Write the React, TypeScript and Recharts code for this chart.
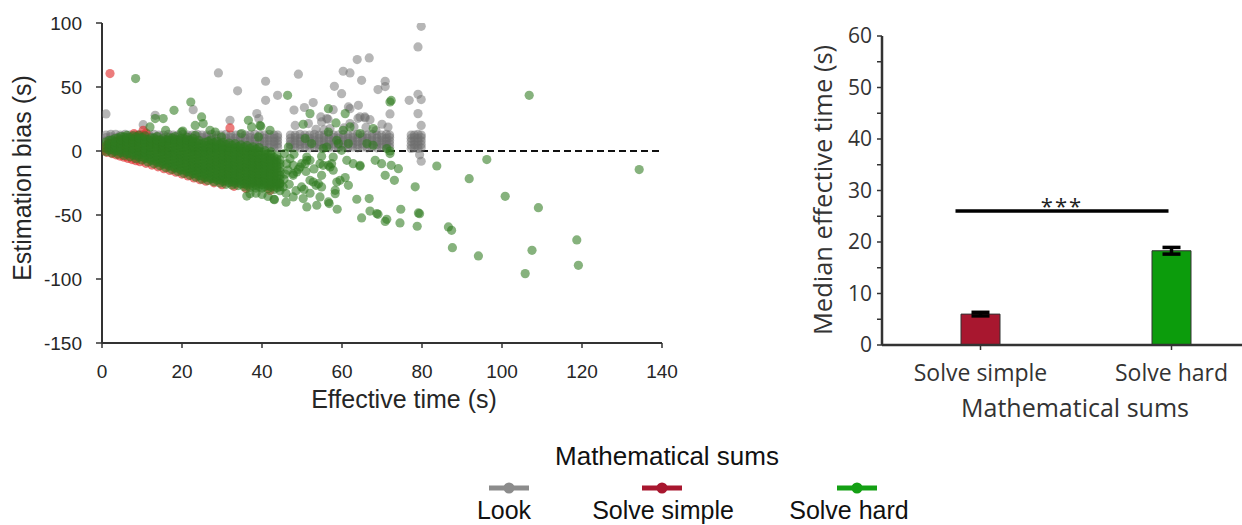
import React from 'react';
import {
  ScatterChart,
  Scatter,
  XAxis,
  YAxis,
  ReferenceLine,
  BarChart,
  Bar,
  ErrorBar,
  Cell,
} from 'recharts';

// ---------------- data ----------------
const seriesNames = ['Look', 'Solve simple', 'Solve hard'];
const scatterColors = ['#6e6e6e', '#e02424', '#2f7a1f'];
const legendColors = ['#8c8c8c', '#a8172f', '#14a014'];
const legendTitle = 'Mathematical sums';

const scatterXTicks = [0, 20, 40, 60, 80, 100, 120, 140];
const scatterYTicks = [-150, -100, -50, 0, 50, 100];
const scatterXLabel = 'Effective time (s)';
const scatterYLabel = 'Estimation bias (s)';

// Look: dense band (x, then y values in that column)
const lookBand: number[][] = [
  [1, 8, 10.5, 12.5], [2.2, 8.5, 11, 13], [3.4, 8, 10.5, 13], [4.6, 8.5, 11, 12.5], [5.8, 8, 10.5, 13],
  [7, 8.5, 11, 12.5], [8.2, 8, 10.5, 12.5], [9.4, 8.5, 11, 13], [10.6, 8, 10.5, 12.5], [11.8, 8.5, 11, 12.5],
  [13, 8, 10.5, 13], [14.2, 8.5, 11, 12.5], [15.4, 8, 10.5, 12.5], [16.6, 8.5, 11, 13], [17.8, 8, 10.5, 12.5],
  [19, 8.5, 11, 12.5], [20.2, 8, 10.5, 13], [21.4, 8.5, 11, 12.5], [22.6, 8, 10.5, 12.5], [23.8, 8.5, 11, 13],
  [25, 8, 10.5, 12.5], [26.2, 8.5, 11, 12.5], [27.4, 8, 10.5, 13],
  [28.6, 2.5, 5, 7.5, 10, 12.5], [29.8, 3, 5.5, 8, 10.5, 12.5], [31, 2.5, 5, 7.5, 10, 13],
  [32.2, 3, 5.5, 8, 10.5, 12.5], [33.4, 2.5, 5, 7.5, 10, 12.5], [34.6, 3, 5.5, 8, 10.5, 13],
  [35.8, 2.5, 5, 7.5, 10, 12.5], [37, 3, 5.5, 8, 10.5, 12.5], [38.2, 2.5, 5, 7.5, 10, 13],
  [39.4, 3, 5.5, 8, 10.5, 12.5], [40.6, 2.5, 5, 7.5, 10, 12.5], [41.8, 3, 5.5, 8, 10.5, 13],
  [43, 2.5, 5, 7.5, 10, 12.5], [43.9, 3, 5.5, 8, 10.5, 12.5],
  [47.1, 2.5, 5, 7.5, 10, 12.5], [48.3, 3, 5.5, 8, 10.5, 12.5], [49.5, 2.5, 5, 7.5, 10, 13],
  [50.7, 3, 5.5, 8, 10.5, 12.5], [51.9, 2.5, 5, 7.5, 10, 12.5], [53.1, 3, 5.5, 8, 10.5, 13],
  [54.3, 2.5, 5, 7.5, 10, 12.5], [55.5, 3, 5.5, 8, 10.5, 12.5], [56.7, 2.5, 5, 7.5, 10, 13],
  [57.9, 3, 5.5, 8, 10.5, 12.5], [59.1, 2.5, 5, 7.5, 10, 12.5], [60.3, 3, 5.5, 8, 10.5, 13],
  [61.5, 2.5, 5, 7.5, 10, 12.5], [62.7, 3, 5.5, 8, 10.5, 12.5], [63.9, 2.5, 5, 7.5, 10, 13],
  [65.1, 3, 5.5, 8, 10.5, 12.5], [66.3, 2.5, 5, 7.5, 10, 12.5], [67.5, 3, 5.5, 8, 10.5, 13],
  [68.7, 2.5, 5, 7.5, 10, 12.5], [69.9, 3, 5.5, 8, 10.5, 12.5], [71.1, 2.5, 5, 7.5, 10, 13],
  [71.9, 3, 5.5, 8, 10.5, 12.5],
  [77.3, 2, 4.5, 7.5, 10, 12.5], [78.1, 2.5, 5, 8, 10.5, 12.5], [79, 2, 4.5, 7.5, 10, 13],
  [79.8, 2.5, 5, 8, 10.5, 12.5],
];

const lookOutliers: [number, number][] = [
  [1, 29], [29.1, 61], [33.9, 47], [40.9, 54.5], [40.9, 39.6], [43.9, 43.5], [49.1, 60], [48, 32],
  [50.6, 34], [52.8, 37.8], [58.1, 50.5], [59.9, 44.8], [60.3, 62.3], [62, 61], [63.8, 71.4],
  [66.8, 72.7], [64.9, 55.2], [70.8, 54.5], [69, 48], [70.8, 50.3], [61.6, 34.4], [64.1, 35.7],
  [62, 33.1], [57.8, 32.3], [65.7, 26.6], [64, 25.5], [64.5, 26.6], [65.8, 25.8], [67, 24.5],
  [54.7, 26.6], [56.5, 24.8], [56.2, 25.3], [54.9, 22.7], [22.8, 32.3], [32, 24], [13.3, 27.9],
  [10.3, 20.6], [38.7, 29.2], [39.2, 25.3], [48.3, 20], [72, 29], [71.5, 18.7], [70, 20.9],
  [79.8, 97.4], [79, 81.3], [76.8, 39.6], [79, 44.3], [79.8, 40.2], [79, 29.2], [79.8, 20],
  [79.8, -8], [79.4, -3], [51.6, 21.4], [62, 21.4], [60.5, 18], [63, 19], [66, 18.5], [68.5, 16],
  [53.5, 17], [55.5, 16.5], [57, 17.5],
];

// Solve simple
const simplePoints: [number, number][] = [
  [2, 60.5], [32, 18], [10.3, 16.2], [9.1, 12.3], [8, 13.5], [11, 14], [1.6, 5.8], [0.8, 3],
  [0.5, 0.5], [1.2, -1], [2.5, -2], [3.5, -3], [4.5, -4], [5.5, -4.8], [6.5, -5.8], [7.5, -6.7],
  [8.5, -7.6], [9.5, -8.4], [11, -9.6], [12.5, -11], [14, -12.4], [15.5, -13.8], [17, -15.2],
  [18.5, -16.6], [20, -18], [21.5, -19.5], [23, -21], [24.5, -22.4], [26, -23.6], [28, -24.9],
  [30, -26.3], [33, -27.6], [36, -29.2], [42, -30.8], [3, 2], [5, 4], [6, 1], [7, 7], [4, 8],
  [9, 3], [12, 5], [15, 2], [10, -3],
];

// Solve hard: dense cone (x, then y values in that column)
const hardDense: number[][] = [
  [1, -0.5, 2, 4.5, 7],
  [2.5, -1.5, 1, 3.5, 6, 8.5],
  [4, -2.5, 0, 2.5, 5, 7.5, 10],
  [5.5, -3.5, -1, 1.5, 4, 6.5, 9, 11],
  [7, -4.5, -2, 0.5, 3, 5.5, 8, 10.5],
  [8.5, -6, -3.5, -1, 1.5, 4, 6.5, 9, 11],
  [10, -7, -4.5, -2, 0.5, 3, 5.5, 8, 10.5],
  [11.5, -8.5, -6, -3.5, -1, 1.5, 4, 6.5, 9],
  [13, -10, -7.5, -5, -2.5, 0, 2.5, 5, 7.5, 10],
  [14.5, -11.5, -9, -6.5, -4, -1.5, 1, 3.5, 6, 8.5],
  [16, -13, -10.5, -8, -5.5, -3, -0.5, 2, 4.5, 7, 9],
  [17.5, -14.5, -12, -9.5, -7, -4.5, -2, 0.5, 3, 5.5, 8, 10],
  [19, -16, -13.5, -11, -8.5, -6, -3.5, -1, 1.5, 4, 6.5, 8.5],
  [20.5, -17.5, -15, -12.5, -10, -7.5, -5, -2.5, 0, 2.5, 5, 7.5, 9.5],
  [22, -19, -16.5, -14, -11.5, -9, -6.5, -4, -1.5, 1, 3.5, 6, 8.5],
  [23.5, -20.5, -18, -15.5, -13, -10.5, -8, -5.5, -3, -0.5, 2, 4.5, 7],
  [25, -22, -19.5, -17, -14.5, -12, -9.5, -7, -4.5, -2, 0.5, 3, 5.5],
  [26.5, -23, -20.5, -18, -15.5, -13, -10.5, -8, -5.5, -3, -0.5, 2, 4.5, 7.5],
  [28, -24, -21.5, -19, -16.5, -14, -11.5, -9, -6.5, -4, -1.5, 1, 3.5, 6.5],
  [29.5, -25, -22.5, -20, -17.5, -15, -12.5, -10, -7.5, -5, -2.5, 0, 2.5, 5.5],
  [31, -26, -23.5, -21, -18.5, -16, -13.5, -11, -8.5, -6, -3.5, -1, 1.5, 5],
  [32.5, -26.5, -24, -21.5, -19, -16.5, -14, -11.5, -9, -6.5, -4, -1.5, 1, 4.5],
  [34, -27, -24.5, -22, -19.5, -17, -14.5, -12, -9.5, -7, -4.5, -2, 0.5, 3.5],
  [35.5, -28, -25.5, -23, -20.5, -18, -15.5, -13, -10.5, -8, -5.5, -3, -0.5, 3],
  [37, -28.5, -26, -23.5, -21, -18.5, -16, -13.5, -11, -8.5, -6, -3.5, -1, 2],
  [38.5, -29, -26.5, -24, -21.5, -19, -16.5, -14, -11.5, -9, -6.5, -4, -1.5, 1.5],
  [40, -29, -26.5, -24, -21.5, -19, -16.5, -14, -11.5, -9, -6.5, -4, -1],
  [41.5, -29.5, -27, -24.5, -22, -19.5, -17, -14.5, -12, -9.5, -7, -4.5, -2],
  [43, -30, -27.5, -25, -22.5, -20, -17.5, -15, -12.5, -10, -7.5, -5],
  [44.5, -31, -28, -25, -22, -19, -16, -13, -10, -7],
];

// Solve hard: second, interleaved layer of the dense cone
const hardDenseB: number[][] = [
  [1.75, 0.75, 3.25, 5.75, 8.25],
  [3.25, -0.25, 2.25, 4.75, 7.25, 9.75],
  [4.75, -1.25, 1.25, 3.75, 6.25, 8.75, 11.25],
  [6.25, -2.25, 0.25, 2.75, 5.25, 7.75, 10.25, 12.25],
  [7.75, -3.25, -0.75, 1.75, 4.25, 6.75, 9.25, 11.75],
  [9.25, -4.75, -2.25, 0.25, 2.75, 5.25, 7.75, 10.25, 12.25],
  [10.75, -5.75, -3.25, -0.75, 1.75, 4.25, 6.75, 9.25, 11.75],
  [12.25, -7.25, -4.75, -2.25, 0.25, 2.75, 5.25, 7.75, 10.25],
  [13.75, -8.75, -6.25, -3.75, -1.25, 1.25, 3.75, 6.25, 8.75, 11.25],
  [15.25, -10.25, -7.75, -5.25, -2.75, -0.25, 2.25, 4.75, 7.25, 9.75],
  [16.75, -11.75, -9.25, -6.75, -4.25, -1.75, 0.75, 3.25, 5.75, 8.25, 10.25],
  [18.25, -13.25, -10.75, -8.25, -5.75, -3.25, -0.75, 1.75, 4.25, 6.75, 9.25, 11.25],
  [19.75, -14.75, -12.25, -9.75, -7.25, -4.75, -2.25, 0.25, 2.75, 5.25, 7.75, 9.75],
  [21.25, -16.25, -13.75, -11.25, -8.75, -6.25, -3.75, -1.25, 1.25, 3.75, 6.25, 8.75, 10.75],
  [22.75, -17.75, -15.25, -12.75, -10.25, -7.75, -5.25, -2.75, -0.25, 2.25, 4.75, 7.25, 9.75],
  [24.25, -19.25, -16.75, -14.25, -11.75, -9.25, -6.75, -4.25, -1.75, 0.75, 3.25, 5.75, 8.25],
  [25.75, -20.75, -18.25, -15.75, -13.25, -10.75, -8.25, -5.75, -3.25, -0.75, 1.75, 4.25, 6.75],
  [27.25, -21.75, -19.25, -16.75, -14.25, -11.75, -9.25, -6.75, -4.25, -1.75, 0.75, 3.25, 5.75, 8.75],
  [28.75, -22.75, -20.25, -17.75, -15.25, -12.75, -10.25, -7.75, -5.25, -2.75, -0.25, 2.25, 4.75, 7.75],
  [30.25, -23.75, -21.25, -18.75, -16.25, -13.75, -11.25, -8.75, -6.25, -3.75, -1.25, 1.25, 3.75, 6.75],
  [31.75, -24.75, -22.25, -19.75, -17.25, -14.75, -12.25, -9.75, -7.25, -4.75, -2.25, 0.25, 2.75, 6.25],
  [33.25, -25.25, -22.75, -20.25, -17.75, -15.25, -12.75, -10.25, -7.75, -5.25, -2.75, -0.25, 2.25, 5.75],
  [34.75, -25.75, -23.25, -20.75, -18.25, -15.75, -13.25, -10.75, -8.25, -5.75, -3.25, -0.75, 1.75, 4.75],
  [36.25, -26.75, -24.25, -21.75, -19.25, -16.75, -14.25, -11.75, -9.25, -6.75, -4.25, -1.75, 0.75, 4.25],
  [37.75, -27.25, -24.75, -22.25, -19.75, -17.25, -14.75, -12.25, -9.75, -7.25, -4.75, -2.25, 0.25, 3.25],
  [39.25, -27.75, -25.25, -22.75, -20.25, -17.75, -15.25, -12.75, -10.25, -7.75, -5.25, -2.75, -0.25, 2.75],
  [40.75, -27.75, -25.25, -22.75, -20.25, -17.75, -15.25, -12.75, -10.25, -7.75, -5.25, -2.75, 0.25],
  [42.25, -28.25, -25.75, -23.25, -20.75, -18.25, -15.75, -13.25, -10.75, -8.25, -5.75, -3.25, -0.75],
  [43.75, -28.75, -26.25, -23.75, -21.25, -18.75, -16.25, -13.75, -11.25, -8.75, -6.25, -3.75],
];

const hardOutliers: [number, number][] = [
  [8.4, 56.6], [22.2, 38.3], [18, 31.8], [24.9, 26.6], [13.3, 25.3], [15.3, 25.3], [12, 18.8],
  [23.3, 20], [25.3, 21.4], [20.2, 15.6], [15.9, 16.2], [36.6, 24], [39.5, 20], [46.4, 43.5],
  [52, 29.2], [56.6, 33.1], [60.8, 29.2], [72, 38.3], [72.3, 39.5], [106.8, 43.5],
  [58.5, 21.9], [62, 18.8], [50.3, 20.9], [67.8, 17.5], [39.7, 19.3], [42, 16.2], [46.6, 3.1],
  [50.8, 9.7], [52.4, 5.8], [55.3, 1.9], [56.2, 3.1], [59.1, 5.8], [60.3, 16.2], [71.2, 1.9],
  [72, 0], [72, -2], [56.6, 14.8], [58.7, 8.4], [67.8, 4.5], [64.5, 13.6], [66.2, 5.8],
  [61.6, 5.8], [59.9, 0.5],
  [19.9, 14.8], [23.3, 12.3], [27, 16.2], [28.3, 14.8], [29.9, 11], [34.9, 13.6], [37.4, 18.8],
  [39.1, 11],
  [49.5, -12.5], [51.2, -7.3], [54.5, -9.9], [56.6, -11.2], [61.2, -7.3], [62.8, -9.9],
  [64.5, -12], [64.5, -11.2], [68.3, -7.3], [69.9, -9.9], [57.8, -4.7],
  [57.8, -15], [55.3, -11.2], [47.8, -17.7], [52.8, -24.2], [54.9, -19], [54.1, -25.5],
  [52, -22.9], [48.7, -16.4], [47.8, -11.2], [49.9, -9.9], [51.2, -4.7], [57.4, -9.9],
  [59.5, -22.9], [57, -12.5],
  [134.3, -14.5], [96.2, -6.7], [83.7, -11.7], [91.8, -21.6], [100.8, -35.4], [78.3, -28],
  [74.1, -13.8], [73.1, -22.9], [70.8, -19], [72.3, -11.2],
  [109.1, -44.3], [86.6, -59.3], [87.4, -62], [87.6, -75.5], [94.1, -82], [107.5, -77.6],
  [105.8, -95.8], [118.7, -69.5], [119.1, -89.3],
  [63.7, -37.7], [66.8, -37.2], [67, -46.9], [68.7, -48.9], [69, -49.5], [64.9, -52.3],
  [70.8, -55], [71.2, -53.4], [74.7, -45.5], [74.5, -56.2], [79.1, -48.4], [79.4, -49],
  [78.8, -58.8],
  [58.8, -45.5], [56.8, -41.1], [61.6, -26.8], [60.8, -20.8], [58.7, -24.2], [58.3, -30.7],
  [58.3, -33.3], [53.5, -26.8], [54.9, -28.1], [54.5, -35.9], [56.6, -39.8], [53.7, -42.4],
  [51.2, -43.7], [50.3, -37.2], [47.8, -35.9], [43.1, -38], [47.8, -19], [49.1, -14.3],
  [50.8, -9.9], [52, -7.3], [54.9, -4.1], [49.9, -28.1], [45.3, -28.1], [44.5, -25.5],
  [37, -33.3], [36.2, -35.2], [43, -37.7], [46, -33], [48.5, -31], [45.5, -22], [46.5, -15],
  [47, -6], [45.6, -2], [48, -2.5], [51, -16], [53, -14], [50.5, -30], [52, -33], [46, -40],
  [40, -34], [41.5, -35.5], [38.5, -33], [46.2, -10], [45.8, -18], [46.8, -26],
];

// Bar panel
const barCategories = ['Solve simple', 'Solve hard'];
const barMedians = [6.0, 18.3];
const barErrors = [0.35, 0.65];
const barColors = ['#a8172f', '#0c9c0c'];
const barYTicks = [0, 5, 10, 15, 20, 25, 30, 35, 40, 45, 50, 55, 60];
const barYLabel = 'Median effective time (s)';
const barXLabel = 'Mathematical sums';
const significanceY = 26;
const significanceLabel = '***';

// ---------------- derived tables ----------------
const expandColumns = (cols: number[][]) =>
  cols.flatMap(([x, ...ys]) => ys.map((y) => ({ x, y })));
const toPoints = (pts: [number, number][]) => pts.map(([x, y]) => ({ x, y }));

const lookData = [...expandColumns(lookBand), ...toPoints(lookOutliers)];
const simpleData = toPoints(simplePoints);
const hardData = [
  ...expandColumns(hardDense),
  ...expandColumns(hardDenseB),
  ...toPoints(hardOutliers),
];

const barData = barCategories.map((name, i) => ({
  name,
  value: barMedians[i],
  err: barErrors[i],
}));

const ARIAL = '"Liberation Sans", Arial, sans-serif';
const CAL = '"Open Sans", sans-serif';

const makeDot = (fill: string, opacity: number) => (props: any) => {
  const { cx, cy } = props;
  if (cx == null || cy == null) return <g />;
  return <circle cx={cx} cy={cy} r={4.6} fill={fill} fillOpacity={opacity} />;
};

const SignificanceShape = (props: any) => {
  const { x1, y1, x2 } = props;
  const left = x1 - 25;
  const right = x2 - 3;
  return (
    <g>
      <line x1={left} y1={y1} x2={right} y2={y1} stroke="#000" strokeWidth={3.5} />
      <text
        x={(left + right) / 2}
        y={y1 + 3}
        textAnchor="middle"
        fontSize={22}
        fontFamily={CAL}
        letterSpacing={2}
        fill="#222"
      >
        {significanceLabel}
      </text>
    </g>
  );
};

export default function App() {
  return (
    <div
      style={{
        position: 'absolute',
        left: 0,
        top: 0,
        width: 1242,
        height: 525,
        overflow: 'hidden',
        background: '#fff',
      }}
    >
      {/* Scatter panel */}
      <div style={{ position: 'absolute', left: 0, top: 0 }}>
        <ScatterChart
          width={700}
          height={430}
          margin={{ top: 23, right: 38, bottom: 27, left: 0 }}
        >
          <XAxis
            type="number"
            dataKey="x"
            domain={[0, 140]}
            ticks={scatterXTicks}
            interval={0}
            allowDataOverflow
            height={60}
            axisLine={{ stroke: '#333', strokeWidth: 2 }}
            tickLine={{ stroke: '#333', strokeWidth: 1.5 }}
            tickSize={5}
            tickMargin={17}
            tick={{ fill: '#262626', fontSize: 19, fontFamily: ARIAL }}
            label={{
              content: () => (
                <text x={404} y={408} textAnchor="middle" fontSize={25} fontFamily={ARIAL} fill="#262626">
                  {scatterXLabel}
                </text>
              ),
            }}
          />
          <YAxis
            type="number"
            dataKey="y"
            domain={[-150, 100]}
            ticks={scatterYTicks}
            interval={0}
            allowDataOverflow
            width={102}
            axisLine={{ stroke: '#333', strokeWidth: 2 }}
            tickLine={{ stroke: '#333', strokeWidth: 1.5 }}
            tickSize={6}
            tickMargin={14}
            tick={{ fill: '#262626', fontSize: 19, fontFamily: ARIAL }}
            label={{
              content: () => (
                <text
                  x={22}
                  y={178}
                  transform="rotate(-90, 22, 178)"
                  textAnchor="middle"
                  dominantBaseline="central"
                  fontSize={25}
                  fontFamily={ARIAL}
                  fill="#262626"
                >
                  {scatterYLabel}
                </text>
              ),
            }}
          />
          <ReferenceLine y={0} stroke="#111" strokeWidth={2} strokeDasharray="7 4" />
          <Scatter
            name={seriesNames[0]}
            data={lookData}
            shape={makeDot(scatterColors[0], 0.5)}
            isAnimationActive={false}
          />
          <Scatter
            name={seriesNames[1]}
            data={simpleData}
            shape={makeDot(scatterColors[1], 0.6)}
            isAnimationActive={false}
          />
          <Scatter
            name={seriesNames[2]}
            data={hardData}
            shape={makeDot(scatterColors[2], 0.58)}
            isAnimationActive={false}
          />
        </ScatterChart>
      </div>

      {/* Bar panel */}
      <div style={{ position: 'absolute', left: 780, top: 0 }}>
        <BarChart
          width={462}
          height={440}
          data={barData}
          margin={{ top: 36, right: 0, bottom: 35, left: 0 }}
        >
          <XAxis
            dataKey="name"
            interval={0}
            padding={{ left: 3, right: -25 }}
            height={60}
            axisLine={{ stroke: '#333', strokeWidth: 2.5 }}
            tickLine={{ stroke: '#333', strokeWidth: 1.5 }}
            tickSize={5}
            tickMargin={15}
            tick={{ fill: '#333', fontSize: 23, fontFamily: CAL }}
            label={{
              content: () => (
                <text x={295} y={417} textAnchor="middle" fontSize={25} fontFamily={CAL} fill="#333">
                  {barXLabel}
                </text>
              ),
            }}
          />
          <YAxis
            type="number"
            domain={[0, 60]}
            ticks={barYTicks}
            interval={0}
            width={102}
            axisLine={{ stroke: '#333', strokeWidth: 2.5 }}
            tickLine={{ stroke: '#333', strokeWidth: 1.5 }}
            tickSize={5}
            tickMargin={5}
            tickFormatter={(v: number) => (v % 10 === 0 ? String(v) : '')}
            tick={{ fill: '#333', fontSize: 21, fontFamily: CAL }}
            label={{
              content: () => (
                <text
                  x={42}
                  y={190}
                  transform="rotate(-90, 42, 190)"
                  textAnchor="middle"
                  dominantBaseline="central"
                  fontSize={25.5}
                  fontFamily={CAL}
                  fill="#333"
                >
                  {barYLabel}
                </text>
              ),
            }}
          />
          <ReferenceLine
            segment={[
              { x: barCategories[0], y: significanceY },
              { x: barCategories[1], y: significanceY },
            ]}
            shape={SignificanceShape}
          />
          <Bar dataKey="value" barSize={39} stroke="#333" strokeWidth={1} isAnimationActive={false}>
            {barData.map((d, i) => (
              <Cell key={d.name} fill={barColors[i]} />
            ))}
            <ErrorBar dataKey="err" width={9} strokeWidth={3.5} stroke="#000" />
          </Bar>
        </BarChart>
      </div>

      {/* Shared legend */}
      <svg
        width={500}
        height={95}
        style={{ position: 'absolute', left: 450, top: 430 }}
      >
        <text x={217} y={35} textAnchor="middle" fontSize={26} fontFamily={ARIAL} fill="#111">
          {legendTitle}
        </text>
        {seriesNames.map((name, i) => {
          const iconX = [59, 212, 407][i];
          const textX = [54, 213, 399][i];
          return (
            <g key={name}>
              <line x1={iconX - 20} y1={58} x2={iconX + 20} y2={58} stroke={legendColors[i]} strokeWidth={5} />
              <circle cx={iconX} cy={58} r={5.5} fill={legendColors[i]} />
              <text x={textX} y={89} textAnchor="middle" fontSize={25} fontFamily={ARIAL} fill="#111">
                {name}
              </text>
            </g>
          );
        })}
      </svg>
    </div>
  );
}
